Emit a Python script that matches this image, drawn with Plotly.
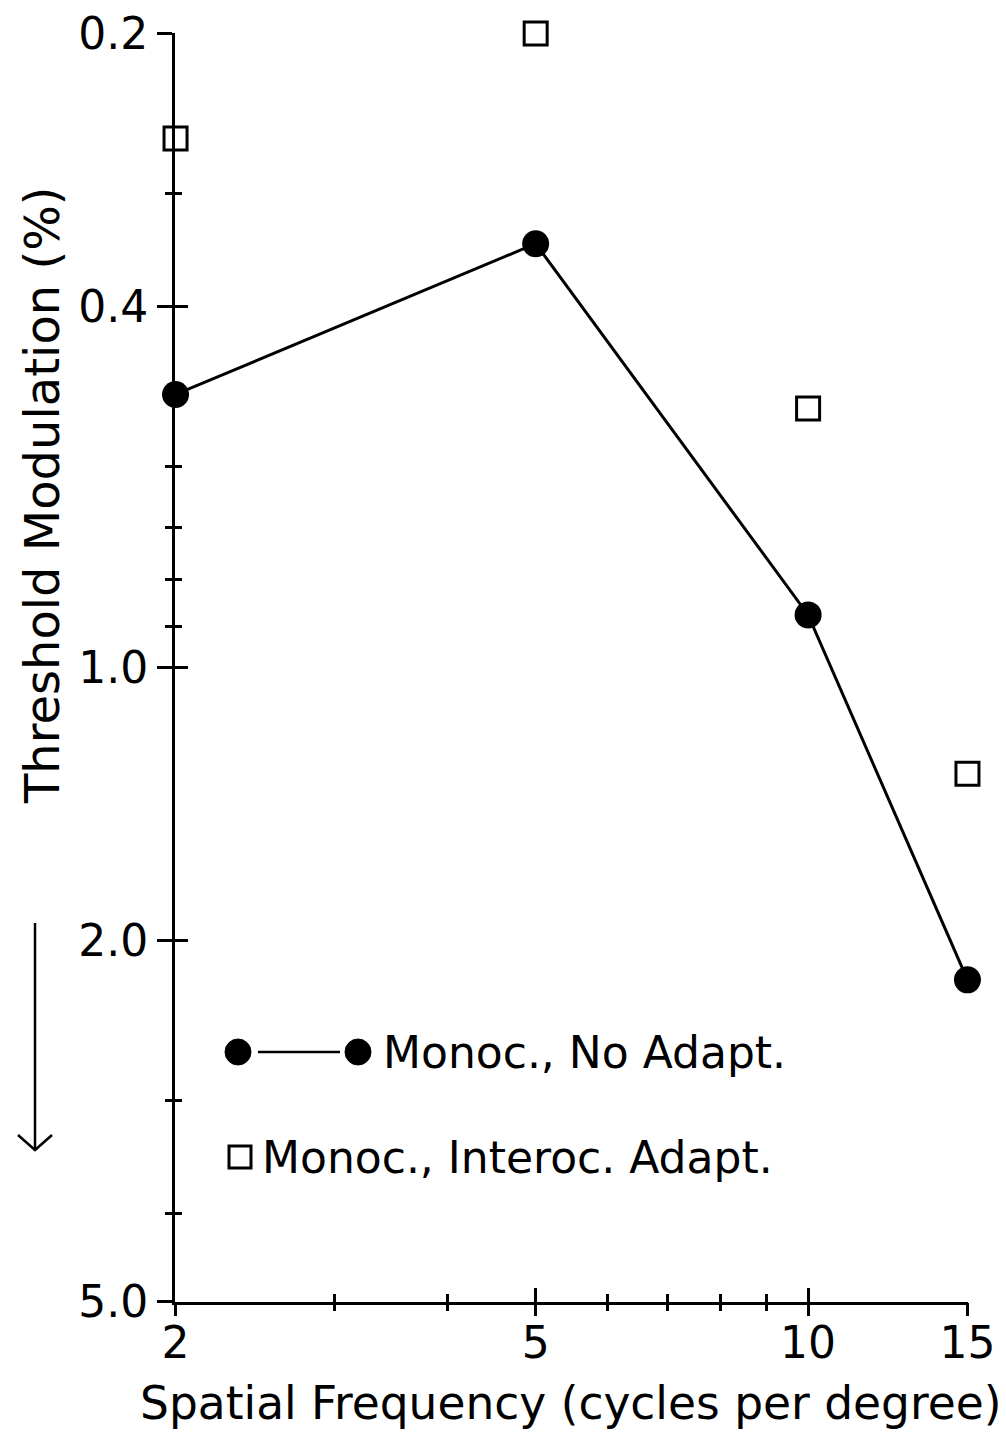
import math
import plotly.graph_objects as go

# ---- data ----
freq = [2, 5, 10, 15]
monoc_no_adapt = [0.50, 0.341, 0.875, 2.21]
monoc_interoc_adapt = [0.261, 0.20, 0.518, 1.31]

x_major = [2, 5, 10, 15]
x_major_text = ["2", "5", "10", "15"]
x_minor = [3, 4, 6, 7, 8, 9]
y_major = [0.2, 0.4, 1.0, 2.0, 5.0]
y_major_text = ["0.2", "0.4", "1.0", "2.0", "5.0"]
y_minor = [0.3, 0.5, 0.6, 0.7, 0.8, 0.9, 3, 4]

OFF = 8                      # browser body margin
W, H = 1006 - OFF, 1432 - OFF
L, T = 175 - OFF, 33 - OFF
R = W - (968 - OFF)
B = H - (1302 - OFF)
FONT = "DejaVu Sans"
PW, PH = W - L - R, H - T - B


def px(xw):  # window pixel -> paper x
    return (xw - OFF - L) / PW


def py(yw):  # window pixel -> paper y
    return (H - B - (yw - OFF)) / PH


EPS = 0.0006
xr = [math.log10(2) - EPS, math.log10(15) + EPS]
yr = [math.log10(5) + EPS, math.log10(0.2) - EPS]

fig = go.Figure()
fig.add_trace(go.Scatter(
    x=freq, y=monoc_no_adapt, mode="lines+markers",
    line=dict(color="black", width=3),
    marker=dict(symbol="circle", size=27, color="black"),
    cliponaxis=False, showlegend=False, name="Monoc., No Adapt."))
fig.add_trace(go.Scatter(
    x=freq, y=monoc_interoc_adapt, mode="markers",
    marker=dict(symbol="square-open", size=23, color="black",
                line=dict(color="black", width=3)),
    cliponaxis=False, showlegend=False, name="Monoc., Interoc. Adapt."))
# invisible helper trace so the overlay axes (other half of the crossing ticks) render
fig.add_trace(go.Scatter(
    x=freq, y=monoc_no_adapt, xaxis="x2", yaxis="y2", mode="markers",
    marker=dict(opacity=0), hoverinfo="skip", showlegend=False))

common = dict(showgrid=False, zeroline=False, tickcolor="black", tickwidth=3,
              automargin=False)

fig.update_layout(
    width=W, height=H,
    margin=dict(l=L, r=R, t=T, b=B),
    paper_bgcolor="white", plot_bgcolor="white",
    font=dict(family=FONT, color="black", size=44),
    showlegend=False,
    xaxis=dict(type="log", range=xr, tickmode="array", tickvals=x_major,
               ticktext=x_major_text, ticks="inside", ticklen=14,
               showline=True, linewidth=3, linecolor="black",
               tickfont=dict(family=FONT, size=44, color="black"),
               layer="below traces", ticklabeloverflow="allow",
               minor=dict(tickmode="array", tickvals=x_minor, ticks="inside",
                          ticklen=8, tickwidth=3, tickcolor="black", showgrid=False),
               **common),
    yaxis=dict(type="log", range=yr, tickmode="array", tickvals=y_major,
               ticktext=y_major_text, ticks="outside", ticklen=15,
               showline=True, linewidth=3, linecolor="black",
               tickfont=dict(family=FONT, size=44, color="black"),
               layer="below traces", ticklabeloverflow="allow",
               minor=dict(tickmode="array", tickvals=y_minor, ticks="outside",
                          ticklen=7, tickwidth=3, tickcolor="black", showgrid=False),
               **common),
    xaxis2=dict(type="log", range=xr, overlaying="x", anchor="y", side="bottom",
                tickmode="array", tickvals=x_major, ticks="outside", ticklen=13,
                showticklabels=False, showline=False, layer="below traces",
                minor=dict(tickmode="array", tickvals=x_minor, ticks="outside",
                           ticklen=8, tickwidth=3, tickcolor="black", showgrid=False),
                **common),
    yaxis2=dict(type="log", range=yr, overlaying="y", anchor="x", side="left",
                tickmode="array", tickvals=y_major, ticks="inside", ticklen=13,
                showticklabels=False, showline=False, layer="below traces",
                minor=dict(tickmode="array", tickvals=y_minor, ticks="inside",
                           ticklen=7, tickwidth=3, tickcolor="black", showgrid=False),
                **common),
)

# axis titles
fig.add_annotation(text="Spatial Frequency (cycles per degree)", xref="paper", yref="paper",
                   x=px(570), y=py(1403), xanchor="center", yanchor="middle",
                   showarrow=False, font=dict(family=FONT, size=45.5, color="black"))
fig.add_annotation(text="Threshold Modulation (%)", xref="paper", yref="paper",
                   x=px(42), y=py(495), xanchor="center", yanchor="middle", textangle=-90,
                   showarrow=False, font=dict(family=FONT, size=48, color="black"))

# downward arrow beside the y axis
fig.add_shape(type="line", xref="paper", yref="paper", x0=px(35), x1=px(35),
              y0=py(923), y1=py(1150), line=dict(color="black", width=2.5))
fig.add_shape(type="path", xref="paper", yref="paper",
              path=f"M {px(18)},{py(1135)} L {px(35)},{py(1150)} L {px(52)},{py(1135)}",
              line=dict(color="black", width=2.5))

# custom legend
ly1, ly2 = 1052, 1157
for cx in (238, 358):
    fig.add_shape(type="circle", xref="paper", yref="paper", xsizemode="pixel",
                  ysizemode="pixel", xanchor=px(cx), yanchor=py(ly1),
                  x0=-13, x1=13, y0=-13, y1=13, fillcolor="black",
                  line=dict(color="black", width=1))
fig.add_shape(type="line", xref="paper", yref="paper", x0=px(258), x1=px(340),
              y0=py(ly1), y1=py(ly1), line=dict(color="black", width=2.5))
fig.add_shape(type="rect", xref="paper", yref="paper", xsizemode="pixel",
              ysizemode="pixel", xanchor=px(240), yanchor=py(ly2),
              x0=-11, x1=11, y0=-11, y1=11, line=dict(color="black", width=3))
fig.add_annotation(text="Monoc., No Adapt.", xref="paper", yref="paper",
                   x=px(381), y=py(ly1), xanchor="left", yanchor="middle",
                   showarrow=False, font=dict(family=FONT, size=44, color="black"))
fig.add_annotation(text="Monoc., Interoc. Adapt.", xref="paper", yref="paper",
                   x=px(260), y=py(ly2), xanchor="left", yanchor="middle",
                   showarrow=False, font=dict(family=FONT, size=44, color="black"))

fig.write_html("out.html")
